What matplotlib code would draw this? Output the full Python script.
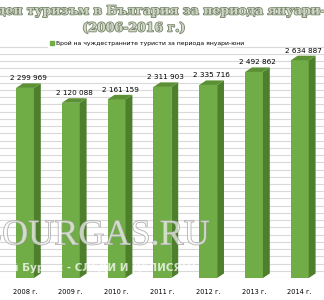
import matplotlib.pyplot as plt
import matplotlib.patheffects as pe
from matplotlib.patches import Polygon

# Данни
years = ["2008 г.", "2009 г.", "2010 г.", "2011 г.", "2012 г.", "2013 г.", "2014 г."]
tourists = [2299969, 2120088, 2161159, 2311903, 2335716, 2492862, 2634887]
series_name = "Брой на чуждестранните туристи за периода януари-юни"
title_1 = "Международен туризъм в България за периода януари-юни"
title_2 = "(2006-2016 г.)"

front = "#70ad47"
side = "#4e7f2c"
top = "#5b9134"
narrow = ["Liberation Sans Narrow", "DejaVu Sans"]

def fmt(v):
    return f"{v:,}".replace(",", " ")

fig = plt.figure(figsize=(3.24, 3.0), dpi=100)
ax = fig.add_axes([0, 22 / 300, 1, (278 - 40) / 300])

w = 0.39
dx = 0.15
dy = 55000
x = range(len(years))
ax.bar(x, tourists, width=w, color=front, zorder=3)
for i, v in enumerate(tourists):
    l, r = i - w / 2, i + w / 2
    ax.add_patch(Polygon([(r, 0), (r + dx, dy), (r + dx, v + dy), (r, v)],
                         closed=True, color=side, zorder=3, lw=0))
    ax.add_patch(Polygon([(l, v), (r, v), (r + dx, v + dy), (l + dx, v + dy)],
                         closed=True, color=top, zorder=3, lw=0))
    ax.text(i + dx / 2, v + dy + 25000, fmt(v), ha="center", va="bottom",
            fontsize=5.2, family=narrow, zorder=5)

ax.set_xlim(-25 / 45.8, 299 / 45.8)
ax.set_ylim(0, 238 * 12100)
gstep = 87500
ax.set_yticks([k * gstep for k in range(int(238 * 12100 / gstep) + 1)])
ax.yaxis.grid(True, color="#d9d9d9", lw=0.8, zorder=0)
ax.tick_params(axis="y", left=False, labelleft=False)
ax.set_xticks(list(x))
ax.set_xticklabels(years, fontsize=4.8, family=narrow)
ax.tick_params(axis="x", length=0, pad=8)
for s in ax.spines.values():
    s.set_visible(False)

# легенда
fig.patches.append(plt.Rectangle((48 / 324, 1 - 47 / 300), 168 / 324, 9 / 300,
                                 transform=fig.transFigure, color="white", zorder=4))
fig.patches.append(plt.Rectangle((50 / 324, 1 - 45 / 300), 4 / 324, 4 / 300,
                                 transform=fig.transFigure, color=front, zorder=5))
fig.text(56 / 324, 1 - 43 / 300, series_name, fontsize=4.4, va="center", ha="left",
         family=narrow, zorder=6)

# заглавие
stroke = [pe.withStroke(linewidth=1.1, foreground="#6f7f62")]
fig.text(134 / 324, 1 - 11 / 300, title_1, fontsize=9, ha="center", va="center",
         family="DejaVu Serif", weight="bold", color="#d0d6c6", path_effects=stroke)
fig.text(134 / 324, 1 - 28 / 300, title_2, fontsize=9, ha="center", va="center",
         family="DejaVu Serif", weight="bold", color="#d0d6c6", path_effects=stroke)

# воден знак
fig.text(-22 / 324, 1 - 236 / 300, "BOURGAS.RU", fontsize=26, ha="left", va="center",
         family="Liberation Serif", color=(1, 1, 1, 0.3),
         path_effects=[pe.withStroke(linewidth=0.7, foreground="#a0a0a0"), pe.Normal()],
         zorder=10)
fig.text(-30 / 324, 1 - 268 / 300, "Русский Бургас - СЛЕДИ И ДЕЛИСЯ!!!", fontsize=7.5,
         ha="left", va="center", weight="bold", color=(1, 1, 1, 0.75), zorder=10)

fig.savefig("out.png", dpi=100)
